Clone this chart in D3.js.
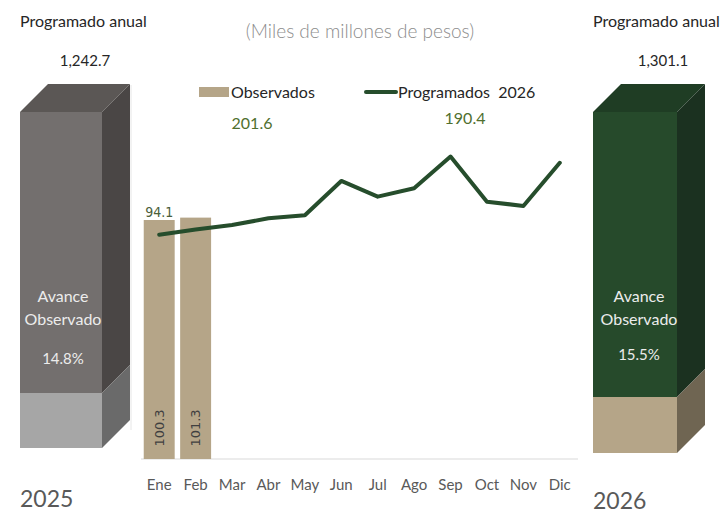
<!DOCTYPE html>
<html>
<head>
  <meta charset="utf-8">
  <title>Programado vs Observado</title>
  <script src="https://d3js.org/d3.v7.min.js"></script>
</head>
<style>
  body { margin: 0; background: #fff; }
  svg text { font-family: 'Century Gothic', 'Lato', sans-serif; }
</style>
<body>
<div id="chart"></div>
<script>
// Data
var months = ["Ene", "Feb", "Mar", "Abr", "May", "Jun", "Jul", "Ago", "Sep", "Oct", "Nov", "Dic"];
var observados = [100.3, 101.3];
var programados = [94.1, 96.3, 98.2, 101.0, 102.3, 116.7, 110.1, 113.6, 126.9, 108.0, 106.2, 124.3];
var years = ["2025", "2026"];
var programadoAnual = ["1,242.7", "1,301.1"];
var avance = ["14.8%", "15.5%"];
// filled height of each box as drawn (% of box)
var relleno = [16.4, 16.4];
var totalObservado = "201.6";
var totalProgramado = "190.4";

var width = 727, height = 514;

var svg = d3.select("#chart").append("svg")
  .attr("width", width)
  .attr("height", height);

// Main chart scales
var x = d3.scaleBand()
  .domain(months)
  .range([141, 578])
  .paddingInner(0.15)
  .paddingOuter(0.075);

var y = d3.scaleLinear()
  .domain([0, 140])
  .range([459, 125.4]);

// axis baseline
svg.append("line")
  .attr("x1", 141).attr("x2", 578)
  .attr("y1", y(0)).attr("y2", y(0))
  .attr("stroke", "#d9d9d9")
  .attr("stroke-width", 1);

// bars
svg.selectAll(".bar")
  .data(observados)
  .enter()
  .append("rect")
  .attr("class", "bar")
  .attr("x", function(d, i) { return x(months[i]); })
  .attr("y", function(d) { return y(d); })
  .attr("width", x.bandwidth())
  .attr("height", function(d) { return y(0) - y(d); })
  .attr("fill", "#b5a588");

// rotated bar labels
svg.selectAll(".barLabel")
  .data(observados)
  .enter()
  .append("text")
  .attr("transform", function(d, i) {
    return "translate(" + (x(months[i]) + x.bandwidth() / 2 + 4.5) + "," + (y(0) - 31) + ") rotate(-90)";
  })
  .attr("text-anchor", "middle")
  .attr("font-size", 13)
  .attr("fill", "#404040")
  .style("font-family", "'DejaVu Sans', sans-serif")
  .text(function(d) { return d.toFixed(1); });

// line
var line = d3.line()
  .x(function(d, i) { return x(months[i]) + x.bandwidth() / 2; })
  .y(function(d) { return y(d); });

svg.append("path")
  .datum(programados)
  .attr("d", line)
  .attr("fill", "none")
  .attr("stroke", "#264d2c")
  .attr("stroke-width", 4)
  .attr("stroke-linecap", "round")
  .attr("stroke-linejoin", "round");

// label of first point
svg.append("text")
  .attr("x", x(months[0]) + x.bandwidth() / 2)
  .attr("y", y(observados[0]) - 3)
  .attr("text-anchor", "middle")
  .attr("font-size", 14)
  .attr("fill", "#4a5e3a")
  .style("font-family", "'DejaVu Sans Condensed', 'DejaVu Sans', sans-serif")
  .text(programados[0].toFixed(1));

// month labels
svg.selectAll(".month")
  .data(months)
  .enter()
  .append("text")
  .attr("x", function(d) { return x(d) + x.bandwidth() / 2; })
  .attr("y", 490)
  .attr("text-anchor", "middle")
  .attr("font-size", 15)
  .attr("fill", "#595959")
  .text(function(d) { return d; });

// title
svg.append("text")
  .attr("x", 360).attr("y", 38)
  .attr("text-anchor", "middle")
  .attr("font-size", 19)
  .attr("font-weight", 300)
  .attr("fill", "#8c8c8c")
  .text("(Miles de millones de pesos)");

// legend
svg.append("rect")
  .attr("x", 199).attr("y", 87)
  .attr("width", 30).attr("height", 10)
  .attr("fill", "#b5a588");
svg.append("text")
  .attr("x", 231).attr("y", 98)
  .attr("font-size", 16)
  .attr("fill", "#262626")
  .text("Observados");
svg.append("line")
  .attr("x1", 366).attr("x2", 396)
  .attr("y1", 92).attr("y2", 92)
  .attr("stroke", "#264d2c")
  .attr("stroke-width", 4)
  .attr("stroke-linecap", "round");
svg.append("text")
  .attr("x", 398).attr("y", 98)
  .attr("font-size", 16)
  .attr("fill", "#262626")
  .attr("xml:space", "preserve")
  .text("Programados  2026");
svg.append("text")
  .attr("x", 252).attr("y", 129)
  .attr("text-anchor", "middle")
  .attr("font-size", 16)
  .attr("fill", "#4f6f2e")
  .text(totalObservado);
svg.append("text")
  .attr("x", 465).attr("y", 124)
  .attr("text-anchor", "middle")
  .attr("font-size", 16)
  .attr("fill", "#4f6f2e")
  .text(totalProgramado);

// 3D boxes for the annual totals
var boxes = [
  { x0: 20, top: 112, bottom: 448, w: 82, depth: 28,
    front: "#736f6e", side: "#4a4645", topc: "#5b5755",
    fillFront: "#a6a6a6", fillSide: "#6a6a6a", titleX: 20, valX: 85, textX: 63 },
  { x0: 593, top: 112, bottom: 453, w: 84, depth: 28,
    front: "#264a2b", side: "#1b3120", topc: "#1f3d24",
    fillFront: "#b5a588", fillSide: "#6f6552", titleX: 593, valX: 663, textX: 639 }
];

boxes.forEach(function(b, i) {
  var g = svg.append("g");
  var hScale = d3.scaleLinear().domain([0, 100]).range([b.bottom, b.top]);
  var xr = b.x0 + b.w, d = b.depth;
  var fy = hScale(relleno[i]);
  function poly(pts, c) {
    g.append("polygon")
      .attr("points", pts.map(function(p) { return p.join(","); }).join(" "))
      .attr("fill", c);
  }
  // top
  poly([[b.x0, b.top], [xr, b.top], [xr + d, b.top - d], [b.x0 + d, b.top - d]], b.topc);
  // front upper
  poly([[b.x0, b.top], [xr, b.top], [xr, fy], [b.x0, fy]], b.front);
  // front filled
  poly([[b.x0, fy], [xr, fy], [xr, b.bottom], [b.x0, b.bottom]], b.fillFront);
  // side upper
  poly([[xr, b.top], [xr + d, b.top - d], [xr + d, fy - d], [xr, fy]], b.side);
  // side filled
  poly([[xr, fy], [xr + d, fy - d], [xr + d, b.bottom - d], [xr, b.bottom]], b.fillSide);

  svg.append("text")
    .attr("x", b.titleX).attr("y", 27)
    .attr("font-size", 16)
    .attr("fill", "#262626")
    .text("Programado anual");
  svg.append("text")
    .attr("x", b.valX).attr("y", 66)
    .attr("text-anchor", "middle")
    .attr("font-size", 15)
    .attr("fill", "#262626")
    .text(programadoAnual[i]);
  var lbl = ["Avance", "Observado"];
  lbl.forEach(function(t, j) {
    svg.append("text")
      .attr("x", b.textX).attr("y", 302 + j * 23)
      .attr("text-anchor", "middle")
      .attr("font-size", 16)
      .attr("fill", "#ececec")
      .text(t);
  });
  svg.append("text")
    .attr("x", b.textX).attr("y", 364 - i * 4)
    .attr("text-anchor", "middle")
    .attr("font-size", 15)
    .attr("fill", "#ececec")
    .text(avance[i]);
  svg.append("text")
    .attr("x", b.titleX).attr("y", 507 + i * 2)
    .attr("font-size", 23)
    .attr("fill", "#595959")
    .text(years[i]);
});

// faint edge next to the left box
svg.append("line")
  .attr("x1", 131).attr("x2", 131)
  .attr("y1", 85).attr("y2", 430)
  .attr("stroke", "#e6e6e6")
  .attr("stroke-width", 1);
</script>
</body>
</html>
